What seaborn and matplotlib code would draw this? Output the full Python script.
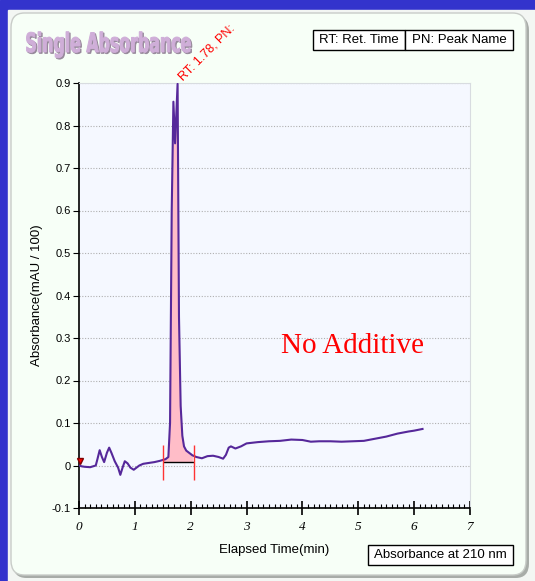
import numpy as np
import pandas as pd
import seaborn as sns
import matplotlib.pyplot as plt
from matplotlib.patches import FancyBboxPatch, Rectangle, PathPatch
from matplotlib.textpath import TextPath
from matplotlib.font_manager import FontProperties
from matplotlib.transforms import Affine2D, IdentityTransform

# chromatogram trace
time_min = [0.0, 0.05, 0.1, 0.2, 0.25, 0.3, 0.33, 0.37, 0.41, 0.45, 0.5, 0.54, 0.58,
            0.64, 0.7, 0.74, 0.78, 0.82, 0.87, 0.92, 0.98, 1.02, 1.08, 1.15, 1.25,
            1.35, 1.45, 1.5, 1.55, 1.6, 1.63, 1.66, 1.69, 1.72, 1.765, 1.79, 1.82,
            1.85, 1.88, 1.92, 1.97, 2.03, 2.1, 2.2, 2.3, 2.4, 2.5, 2.58, 2.63, 2.68,
            2.72, 2.8, 2.9, 3.0, 3.2, 3.4, 3.6, 3.8, 4.0, 4.15, 4.3, 4.5, 4.7, 4.9,
            5.1, 5.3, 5.5, 5.7, 5.9, 6.0, 6.15]
absorbance = [0.0, -0.002, -0.003, -0.004, -0.002, 0.0, 0.015, 0.036, 0.02, 0.008,
              0.03, 0.042, 0.03, 0.01, -0.005, -0.022, -0.005, 0.01, 0.005, -0.005,
              -0.01, -0.006, 0.0, 0.004, 0.006, 0.008, 0.011, 0.013, 0.015, 0.02,
              0.1, 0.6, 0.856, 0.758, 0.898, 0.35, 0.14, 0.07, 0.045, 0.035, 0.03,
              0.024, 0.02, 0.017, 0.022, 0.023, 0.02, 0.016, 0.025, 0.042, 0.045,
              0.04, 0.045, 0.052, 0.055, 0.057, 0.058, 0.061, 0.06, 0.056, 0.057,
              0.057, 0.056, 0.057, 0.058, 0.063, 0.068, 0.075, 0.08, 0.082, 0.086]

# integrated peak
peak_start = 1.5
peak_end = 2.05
peak_baseline = 0.008
peak_rt = 1.78

df = pd.DataFrame({"t": time_min, "abs": absorbance})

fig = plt.figure(figsize=(5.35, 5.81), dpi=100)
fig.patch.set_facecolor("#f2f5f2")

# blue frame + rounded panel
fig.patches.append(Rectangle((0, 0), 1, 1, transform=fig.transFigure, color="#3333cc", zorder=-5))
fig.patches.append(Rectangle((8 / 535, 0), 1, 571 / 581, transform=fig.transFigure,
                             color="#f3f6f3", zorder=-4))
fig.patches.append(FancyBboxPatch((13 / 535, 3 / 581), 516 / 535, 562 / 581,
                                  boxstyle="round,pad=0,rounding_size=0.025",
                                  transform=fig.transFigure, fc="#a8aca8", ec="none", zorder=-3))
fig.patches.append(FancyBboxPatch((11 / 535, 6 / 581), 515 / 535, 562 / 581,
                                  boxstyle="round,pad=0,rounding_size=0.025",
                                  transform=fig.transFigure, fc="#f7fff7", ec="#c8ccc8",
                                  lw=1, zorder=-2))

ax = fig.add_axes([79 / 535, 73 / 581, 391 / 535, 425 / 581])
ax.set_facecolor("#f5f8ff")

seg = df[(df.t >= peak_start) & (df.t <= peak_end)]
ax.fill_between(seg.t, peak_baseline, seg["abs"], color="#ffbdc8", lw=0, zorder=1)
sns.lineplot(data=df, x="t", y="abs", ax=ax, color="#56289a", lw=1.5, sort=False, zorder=3)
ax.hlines(peak_baseline, peak_start, peak_end, color="black", lw=1, zorder=4)
ax.vlines([peak_start, peak_end], -0.035, 0.048, color="#ff3333", lw=1, zorder=4)
ax.plot([0.02], [0.01], marker="v", color="red", ms=4, mec="#800000", zorder=5, clip_on=False)

ax.set_xlim(0, 7)
ax.set_ylim(-0.1, 0.9)
ax.set_yticks(np.round(np.arange(-0.1, 0.91, 0.1), 1))
ax.set_yticklabels(["-0.1", "0"] + [f"{v:.1f}" for v in np.arange(0.1, 0.91, 0.1)], fontsize=8,
                   family="Liberation Sans")
ax.set_xticks(range(8))
ax.set_xticklabels([str(i) for i in range(8)], fontsize=9.5, family="Liberation Serif", style="italic")
ax.set_xticks(np.arange(0, 7.01, 0.1), minor=True)
ax.tick_params(axis="x", which="major", direction="inout", length=10, width=1.2, pad=4)
ax.tick_params(axis="x", which="minor", direction="in", length=3, width=0.8)
ax.tick_params(axis="y", which="major", direction="out", length=4, pad=2)
ax.grid(axis="y", color="#b0b0b0", ls=(0, (1, 1.5)), lw=0.8)
ax.set_axisbelow(True)
for s in ["top", "right"]:
    ax.spines[s].set_color("#d8dce0")
for s in ["left", "bottom"]:
    ax.spines[s].set_color("black")
    ax.spines[s].set_linewidth(1.2)

ax.set_xlabel("Elapsed Time(min)", fontsize=9.5, family="Liberation Sans", labelpad=8)
ax.set_ylabel("Absorbance(mAU / 100)", fontsize=9.5, family="Liberation Sans", labelpad=6)

ax.text(1.86, 0.905, f"RT: {peak_rt:.2f}, PN:", color="red", fontsize=9,
        rotation=45, rotation_mode="anchor", ha="left", va="baseline", clip_on=False,
        family="Liberation Sans")
ax.text(3.62, 0.265, "No Additive", color="red", fontsize=21, family="Liberation Serif")

# title, squeezed horizontally like the condensed original
tp = TextPath((0, 0), "Single Absorbance", size=100,
              prop=FontProperties(family="DejaVu Sans", weight="bold"))
ext = tp.get_extents()
sx = 164 / ext.width
sy = 19.5 / 73.0
for dx, dy, col, z in [(1.3, -1.3, "#958799", 1), (0, 0, "#cfaed8", 2)]:
    tr = Affine2D().translate(-ext.x0, 0).scale(sx, sy).translate(26.5 + dx, 581 - 52 + dy)
    fig.patches.append(PathPatch(tr.transform_path(tp), transform=IdentityTransform(),
                                 fc=col, ec=col, lw=0.7, zorder=z))

# legend boxes
for x0, w, txt in [(313, 92, "RT: Ret. Time"), (405, 108, "PN: Peak Name")]:
    fig.patches.append(Rectangle((x0 / 535, 1 - 50 / 581), w / 535, 20 / 581,
                                 transform=fig.transFigure, fc="white", ec="black", lw=1))
    fig.text((x0 + w / 2) / 535, 1 - 40 / 581, txt, ha="center", va="center",
             fontsize=9.5, family="Liberation Sans")
fig.patches.append(Rectangle((368 / 535, 1 - 565 / 581), 145 / 535, 20 / 581,
                             transform=fig.transFigure, fc="white", ec="black", lw=1))
fig.text(440.5 / 535, 1 - 555 / 581, "Absorbance at 210 nm", ha="center", va="center",
         fontsize=9.5, family="Liberation Sans")

fig.savefig("out.png", dpi=100, facecolor=fig.get_facecolor())
